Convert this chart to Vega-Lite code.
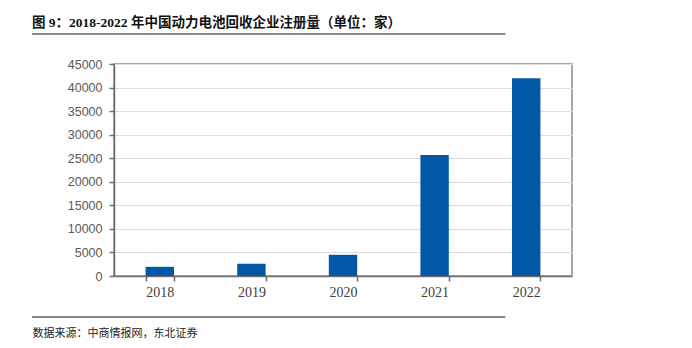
{
  "$schema": "https://vega.github.io/schema/vega-lite/v6.json",
  "width": 458,
  "height": 212,
  "autosize": {"type": "none"},
  "padding": {"left": 114, "top": 64, "right": 120, "bottom": 72},
  "background": "white",
  "config": {
    "view": {"stroke": "#8c8c8c", "strokeWidth": 1.5}
  },
  "title": {
    "text": "图 9：2018-2022 年中国动力电池回收企业注册量（单位：家）",
    "anchor": "start",
    "frame": "group",
    "dx": -82,
    "offset": 4,
    "font": "Liberation Serif, Noto Sans CJK SC",
    "fontSize": 13.5,
    "fontWeight": "bold",
    "color": "#111111"
  },
  "data": {
    "values": [
      {"year": "2018", "count": 1950},
      {"year": "2019", "count": 2600},
      {"year": "2020", "count": 4500},
      {"year": "2021", "count": 25700},
      {"year": "2022", "count": 42000}
    ]
  },
  "layer": [
    {
      "mark": {"type": "bar", "color": "#0257a7"},
      "encoding": {
        "x": {
          "field": "year",
          "type": "nominal",
          "sort": null,
          "scale": {"paddingInner": 0.69, "paddingOuter": 0.345},
          "axis": {
            "title": "数据来源：中商情报网，东北证券",
            "titleX": -82,
            "titleY": 57,
            "titleAlign": "left",
            "titleAnchor": "start",
            "titleBaseline": "middle",
            "titleFont": "Noto Sans CJK SC",
            "titleFontSize": 11,
            "titleFontWeight": "normal",
            "titleColor": "#222222",
            "labelAngle": 0,
            "labelFont": "Liberation Serif",
            "labelFontSize": 14,
            "labelColor": "#404040",
            "labelPadding": 4,
            "tickBand": "extent",
            "tickSize": 5,
            "tickColor": "#6e6e6e",
            "tickWidth": 1.5,
            "domainColor": "#6e6e6e",
            "domainWidth": 1.5
          }
        },
        "y": {
          "field": "count",
          "type": "quantitative",
          "scale": {"domain": [0, 45000], "nice": false},
          "axis": {
            "title": null,
            "format": "d",
            "values": [0, 5000, 10000, 15000, 20000, 25000, 30000, 35000, 40000, 45000],
            "labelFont": "Liberation Sans",
            "labelFontSize": 12.5,
            "labelColor": "#595959",
            "labelPadding": 7,
            "tickSize": 5,
            "tickColor": "#6e6e6e",
            "tickWidth": 1.5,
            "domainColor": "#6e6e6e",
            "domainWidth": 1.5,
            "gridColor": "#dcdcdc",
            "gridWidth": 1
          }
        }
      }
    },
    {
      "mark": {"type": "rule", "color": "#8a8a8a", "strokeWidth": 1.5, "clip": false},
      "encoding": {
        "x": {"datum": -0.179, "type": "quantitative", "scale": {"domain": [0, 1], "nice": false, "zero": false}, "axis": null},
        "x2": {"datum": 0.854},
        "y": {"datum": 51400, "type": "quantitative", "axis": null}
      }
    },
    {
      "mark": {"type": "rule", "color": "#8a8a8a", "strokeWidth": 1.5, "clip": false},
      "encoding": {
        "x": {"datum": -0.179, "type": "quantitative", "scale": {"domain": [0, 1], "nice": false, "zero": false}, "axis": null},
        "x2": {"datum": 0.854},
        "y": {"datum": -8700, "type": "quantitative", "axis": null}
      }
    }
  ],
  "resolve": {"scale": {"x": "independent"}, "axis": {"x": "independent", "y": "independent"}}
}
